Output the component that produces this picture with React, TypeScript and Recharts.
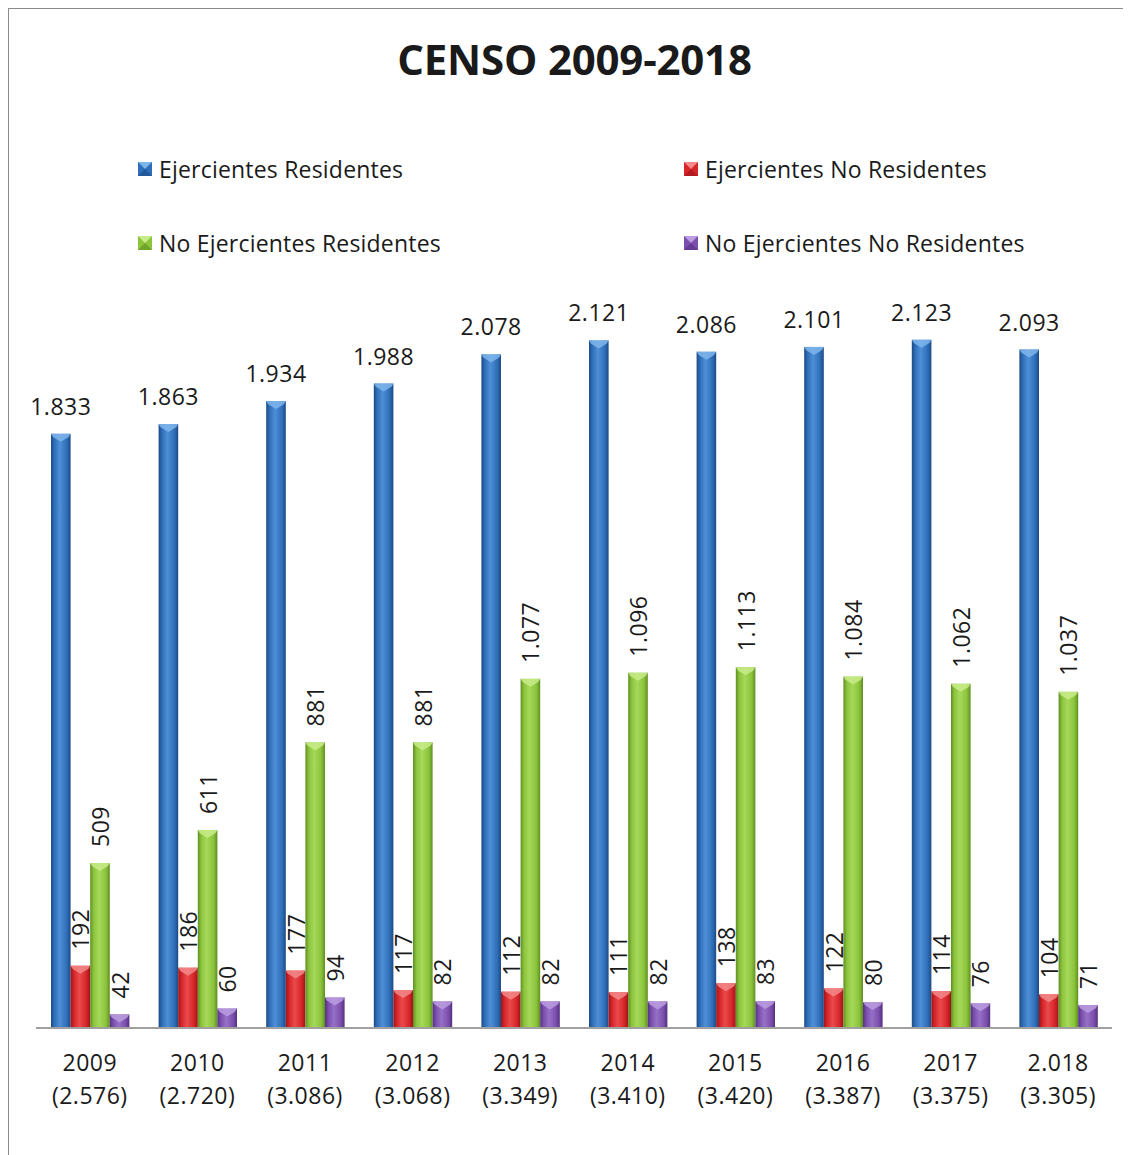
import React from "react";
import { BarChart, Bar, XAxis, YAxis, LabelList } from "recharts";

const years = ["2009", "2010", "2011", "2012", "2013", "2014", "2015", "2016", "2017", "2.018"];
const totals = ["(2.576)", "(2.720)", "(3.086)", "(3.068)", "(3.349)", "(3.410)", "(3.420)", "(3.387)", "(3.375)", "(3.305)"];
const ejercientesResidentes = [1833, 1863, 1934, 1988, 2078, 2121, 2086, 2101, 2123, 2093];
const ejercientesNoResidentes = [192, 186, 177, 117, 112, 111, 138, 122, 114, 104];
const noEjercientesResidentes = [509, 611, 881, 881, 1077, 1096, 1113, 1084, 1062, 1037];
const noEjercientesNoResidentes = [42, 60, 94, 82, 82, 82, 83, 80, 76, 71];

const data = years.map((y, i) => ({
  year: y,
  total: totals[i],
  er: ejercientesResidentes[i],
  enr: ejercientesNoResidentes[i],
  ner: noEjercientesResidentes[i],
  nenr: noEjercientesNoResidentes[i],
}));

const FONT = "'Open Sans', 'Noto Sans', sans-serif";

const palette: Record<string, { base: string; dark: string; light: string; top: string }> = {
  er: { base: "#2f6fb9", dark: "#1c4a86", light: "#4f8fd6", top: "#7fb6ec" },
  enr: { base: "#d6262a", dark: "#9c1418", light: "#ea4a4c", top: "#f28a8a" },
  ner: { base: "#8cc43c", dark: "#5f8f22", light: "#a6d85a", top: "#c8ec8a" },
  nenr: { base: "#7c4fae", dark: "#55317f", light: "#9670c6", top: "#bb9ce0" },
};

const series = [
  { key: "er", name: "Ejercientes Residentes" },
  { key: "enr", name: "Ejercientes No Residentes" },
  { key: "ner", name: "No Ejercientes Residentes" },
  { key: "nenr", name: "No Ejercientes No Residentes" },
];

const fmt = (n: number) => {
  const s = String(n);
  return n >= 1000 ? s.slice(0, s.length - 3) + "." + s.slice(-3) : s;
};

const makeShape = (key: string) => (props: any) => {
  const { x, y, width, height } = props;
  if (!height || height <= 0) return null;
  const c = palette[key];
  const id = "grad-" + key;
  const tri = Math.min(8, height);
  return (
    <g>
      <defs>
        <linearGradient id={id} x1="0" y1="0" x2="1" y2="0">
          <stop offset="0%" stopColor={c.dark} />
          <stop offset="18%" stopColor={c.base} />
          <stop offset="45%" stopColor={c.light} />
          <stop offset="80%" stopColor={c.base} />
          <stop offset="100%" stopColor={c.dark} />
        </linearGradient>
      </defs>
      <rect x={x} y={y} width={width} height={height} fill={`url(#${id})`} />
      <polygon
        points={`${x},${y} ${x + width},${y} ${x + width - 2},${y + tri * 0.4} ${x + width / 2},${y + tri} ${x + 2},${y + tri * 0.4}`}
        fill={c.top}
        opacity={0.85}
      />
    </g>
  );
};

const horizLabel = (props: any) => {
  const { x, y, width, value } = props;
  return (
    <text x={x + width / 2} y={y - 19} textAnchor="middle" fontFamily={FONT} fontSize={23} letterSpacing={0.5} fill="#1a1a1a">
      {fmt(value)}
    </text>
  );
};

const vertLabel = (props: any) => {
  const { x, y, width, value } = props;
  const cx = x + width / 2;
  const cy = y - 16;
  return (
    <text
      x={cx}
      y={cy}
      transform={`rotate(-90, ${cx}, ${cy})`}
      textAnchor="start"
      dominantBaseline="central"
      fontFamily={FONT}
      fontSize={23}
      letterSpacing={0.5}
      fill="#1a1a1a"
    >
      {fmt(value)}
    </text>
  );
};

const Tick = (props: any) => {
  const { x, y, payload, index } = props;
  return (
    <g>
      <text x={x} y={y + 35} textAnchor="middle" fontFamily={FONT} fontSize={23} letterSpacing={0.5} fill="#1a1a1a">
        {payload.value}
      </text>
      <text x={x} y={y + 68} textAnchor="middle" fontFamily={FONT} fontSize={23} letterSpacing={0.5} fill="#1a1a1a">
        {totals[index]}
      </text>
    </g>
  );
};

const LegendSwatch = ({ k }: { k: string }) => {
  const c = palette[k];
  return (
    <svg width={14} height={14} style={{ marginRight: 7, flexShrink: 0 }}>
      <rect x={0} y={0} width={14} height={14} fill={c.base} />
      <polygon points="0,0 14,0 7,7" fill={c.top} />
      <polygon points="0,14 14,14 7,7" fill={c.dark} opacity={0.6} />
    </svg>
  );
};

export default function App() {
  return (
    <div
      style={{
        position: "relative",
        width: 1123,
        height: 1147,
        boxSizing: "border-box",
        borderTop: "1px solid #8a8a8a",
        borderLeft: "1px solid #8a8a8a",
        background: "#fff",
        overflow: "hidden",
      }}
    >
      <div
        style={{
          position: "absolute",
          top: 21,
          left: 4,
          width: 1123,
          textAlign: "center",
          fontFamily: FONT,
          fontWeight: 700,
          fontSize: 42,
          letterSpacing: -0.2,
          color: "#1a1a1a",
        }}
      >
        CENSO 2009-2018
      </div>
      {series.map((s, i) => (
        <div
          key={s.key}
          style={{
            position: "absolute",
            left: i % 2 === 0 ? 129 : 675,
            top: i < 2 ? 144 : 218,
            display: "flex",
            alignItems: "center",
            fontFamily: FONT,
            fontSize: 23,
            letterSpacing: 0.2,
            color: "#1a1a1a",
            whiteSpace: "nowrap",
          }}
        >
          <LegendSwatch k={s.key} />
          {s.name}
        </div>
      ))}
      <div style={{ position: "absolute", top: 0, left: 0 }}>
        <BarChart
          width={1122}
          height={1146}
          data={data}
          margin={{ top: 241, right: 19, bottom: 27, left: 27 }}
          barGap={0}
          barSize={19.6}
        >
          <XAxis
            dataKey="year"
            tickLine={false}
            axisLine={{ stroke: "#a0a0a0", strokeWidth: 2 }}
            tick={<Tick />}
            height={100}
            interval={0}
          />
          <YAxis hide domain={[0, 2400]} />
          {series.map((s) => (
            <Bar key={s.key} dataKey={s.key} name={s.name} isAnimationActive={false} shape={makeShape(s.key)}>
              <LabelList dataKey={s.key} content={s.key === "er" ? horizLabel : vertLabel} />
            </Bar>
          ))}
        </BarChart>
      </div>
    </div>
  );
}
